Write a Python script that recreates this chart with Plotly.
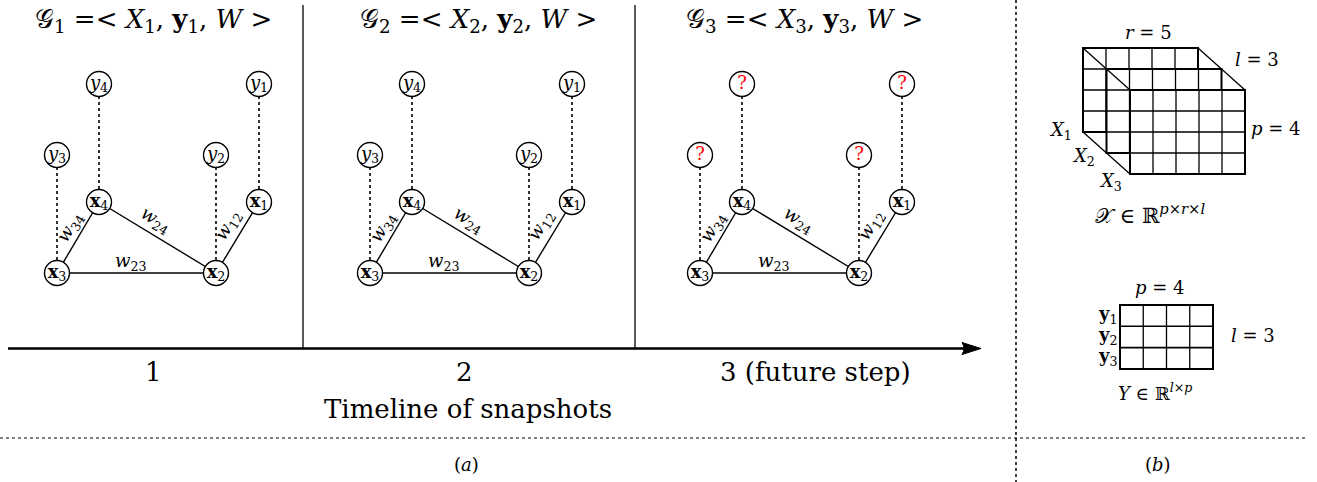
import plotly.graph_objects as go

# ---------------- data ----------------
panel_offsets = [0, 313, 643]
panel_title_x = [153, 478, 804]
panel_titles = [
    "𝒢<sub>1</sub> =< <i>X</i><sub>1</sub>, <b>y</b><sub>1</sub>, <i>W</i> >",
    "𝒢<sub>2</sub> =< <i>X</i><sub>2</sub>, <b>y</b><sub>2</sub>, <i>W</i> >",
    "𝒢<sub>3</sub> =< <i>X</i><sub>3</sub>, <b>y</b><sub>3</sub>, <i>W</i> >",
]
x_nodes = ["x1", "x2", "x3", "x4"]
x_node_px = [259, 216, 57, 99]
x_node_py = [202, 273, 273, 202]
x_node_labels = ["<b>x</b><sub>1</sub>", "<b>x</b><sub>2</sub>",
                 "<b>x</b><sub>3</sub>", "<b>x</b><sub>4</sub>"]
y_node_px = [259, 216, 57, 99]
y_node_py = [84, 155, 155, 84]
y_node_labels = ["<i>y</i><sub>1</sub>", "<i>y</i><sub>2</sub>",
                 "<i>y</i><sub>3</sub>", "<i>y</i><sub>4</sub>"]
future_label = "?"
edges = [("x3", "x2"), ("x3", "x4"), ("x4", "x2"), ("x2", "x1")]
edge_labels = ["<i>w</i><sub>23</sub>", "<i>w</i><sub>34</sub>",
               "<i>w</i><sub>24</sub>", "<i>w</i><sub>12</sub>"]
edge_label_px = [130, 70, 155, 228]
edge_label_py = [262, 228, 220, 226]
edge_label_angle = [0, -59, 31, -59]

timeline_labels = ["1", "2", "3 (future step)"]
timeline_x = [153, 464, 815]
timeline_title = "Timeline of snapshots"
sub_captions = ["(<i>a</i>)", "(<i>b</i>)"]
sub_caption_x = [466, 1158]

# tensor X (p x r x l) and matrix Y (l x p)
p_rows, r_cols, l_layers = 4, 5, 3
cube_labels = ["<i>r</i> = 5", "<i>l</i> = 3", "<i>p</i> = 4",
               "<i>X</i><sub>1</sub>", "<i>X</i><sub>2</sub>", "<i>X</i><sub>3</sub>",
               "𝒳 ∈ ℝ<sup><i>p</i>×<i>r</i>×<i>l</i></sup>"]
cube_label_x = [1148, 1257, 1276, 1060, 1083, 1110, 1150]
cube_label_y = [32, 59, 128, 131, 157, 182, 214]
ymat_labels = ["<i>p</i> = 4", "<i>l</i> = 3",
               "<b>y</b><sub>1</sub>", "<b>y</b><sub>2</sub>", "<b>y</b><sub>3</sub>",
               "<i>Y</i> ∈ ℝ<sup><i>l</i>×<i>p</i></sup>"]
ymat_label_x = [1160, 1253, 1107, 1107, 1107, 1155]
ymat_label_y = [287, 335, 315, 336, 357, 392]

# ---------------- figure ----------------
W, H = 1317, 482
SERIF = "DejaVu Serif, Liberation Serif, serif"
fig = go.Figure()
shapes = []
annotations = []

def ann(x, y, text, size, color="black", angle=0, xanchor="center"):
    annotations.append(dict(x=x, y=y, xref="x", yref="y", text=text, showarrow=False,
                            font=dict(family=SERIF, size=size, color=color),
                            textangle=angle, xanchor=xanchor, yanchor="middle"))

pos = {n: (x_node_px[i], x_node_py[i]) for i, n in enumerate(x_nodes)}

for k, off in enumerate(panel_offsets):
    for i in range(4):
        fig.add_trace(go.Scatter(x=[y_node_px[i] + off, x_node_px[i] + off],
                                 y=[y_node_py[i], x_node_py[i]], mode="lines",
                                 line=dict(color="black", width=1.6, dash="dot"),
                                 hoverinfo="skip", showlegend=False))
    for (a, b) in edges:
        fig.add_trace(go.Scatter(x=[pos[a][0] + off, pos[b][0] + off],
                                 y=[pos[a][1], pos[b][1]], mode="lines",
                                 line=dict(color="black", width=1.4),
                                 hoverinfo="skip", showlegend=False))
    fig.add_trace(go.Scatter(x=[v + off for v in x_node_px], y=x_node_py,
                             mode="markers+text", text=x_node_labels,
                             textposition="middle center",
                             textfont=dict(family=SERIF, size=18, color="black"),
                             marker=dict(size=25, color="white",
                                         line=dict(color="black", width=1.4)),
                             hoverinfo="skip", showlegend=False))
    if k < 2:
        ytext, ycol = y_node_labels, "black"
    else:
        ytext, ycol = [future_label] * 4, "red"
    fig.add_trace(go.Scatter(x=[v + off for v in y_node_px], y=y_node_py,
                             mode="markers+text", text=ytext,
                             textposition="middle center",
                             textfont=dict(family=SERIF, size=18, color=ycol),
                             marker=dict(size=25, color="white",
                                         line=dict(color="black", width=1.4)),
                             hoverinfo="skip", showlegend=False))
    for i in range(len(edge_labels)):
        ann(edge_label_px[i] + off, edge_label_py[i], edge_labels[i], 18,
            angle=edge_label_angle[i])
    ann(panel_title_x[k], 20, panel_titles[k], 26)

for xs in [303, 635]:
    shapes.append(dict(type="line", x0=xs, x1=xs, y0=5, y1=348,
                       line=dict(color="black", width=1.3)))
shapes.append(dict(type="line", x0=8, x1=968, y0=348.5, y1=348.5,
                   line=dict(color="black", width=2.6)))
shapes.append(dict(type="path", path="M 981,348.5 L 962,342.5 Q 966,348.5 962,354.5 Z",
                   fillcolor="black", line=dict(color="black", width=1)))
for i, t in enumerate(timeline_labels):
    ann(timeline_x[i], 372, t, 26)
ann(468, 409, timeline_title, 26)

shapes.append(dict(type="line", x0=0, x1=1307, y0=438, y1=438,
                   line=dict(color="black", width=1.2, dash="dot")))
shapes.append(dict(type="line", x0=1016, x1=1016, y0=0, y1=482,
                   line=dict(color="black", width=1.5, dash="dot")))
for i, t in enumerate(sub_captions):
    ann(sub_caption_x[i], 464, t, 18)

cx0, cy0, cw, ch = 1083, 48, 23, 21
for layer in range(l_layers):
    ox = cx0 + layer * 23.5
    oy = cy0 + layer * 21
    shapes.append(dict(type="rect", x0=ox, x1=ox + r_cols * cw, y0=oy, y1=oy + p_rows * ch,
                       fillcolor="white", line=dict(color="black", width=2)))
    for c in range(1, r_cols):
        shapes.append(dict(type="line", x0=ox + c * cw, x1=ox + c * cw, y0=oy, y1=oy + p_rows * ch,
                           line=dict(color="black", width=1.3)))
    for r in range(1, p_rows):
        shapes.append(dict(type="line", x0=ox, x1=ox + r_cols * cw, y0=oy + r * ch, y1=oy + r * ch,
                           line=dict(color="black", width=1.3)))
last_dx, last_dy = (l_layers - 1) * 23.5, (l_layers - 1) * 21
for (px, py) in [(cx0, cy0), (cx0 + r_cols * cw, cy0), (cx0, cy0 + p_rows * ch)]:
    shapes.append(dict(type="line", x0=px, x1=px + last_dx, y0=py, y1=py + last_dy,
                       line=dict(color="black", width=1.3)))
for i, t in enumerate(cube_labels):
    ann(cube_label_x[i], cube_label_y[i], t, 18 if i < 6 else 21)

mx0, my0, mw, mh = 1120, 305, 23.25, 21.3
shapes.append(dict(type="rect", x0=mx0, x1=mx0 + p_rows * mw, y0=my0, y1=my0 + l_layers * mh,
                   fillcolor="white", line=dict(color="black", width=2)))
for c in range(1, p_rows):
    shapes.append(dict(type="line", x0=mx0 + c * mw, x1=mx0 + c * mw, y0=my0, y1=my0 + l_layers * mh,
                       line=dict(color="black", width=1.3)))
for r in range(1, l_layers):
    shapes.append(dict(type="line", x0=mx0, x1=mx0 + p_rows * mw, y0=my0 + r * mh, y1=my0 + r * mh,
                       line=dict(color="black", width=1.6)))
for i, t in enumerate(ymat_labels):
    ann(ymat_label_x[i], ymat_label_y[i], t, 18)

fig.update_layout(
    width=W, height=H, margin=dict(l=0, r=0, t=0, b=0),
    paper_bgcolor="white", plot_bgcolor="white",
    xaxis=dict(range=[0, W], visible=False, fixedrange=True),
    yaxis=dict(range=[H, 0], visible=False, fixedrange=True),
    shapes=shapes, annotations=annotations, showlegend=False,
)
fig.write_html("out.html", config={"displayModeBar": False},
               post_script="document.body.style.margin='0';document.body.style.padding='0';")
